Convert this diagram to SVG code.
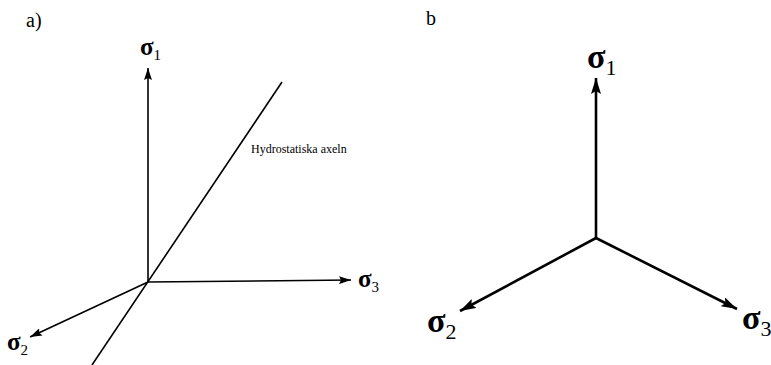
<svg xmlns="http://www.w3.org/2000/svg" width="771" height="365" viewBox="0 0 771 365">
<defs>
<marker id="ha" viewBox="0 0 12 8" refX="12" refY="4" markerWidth="12" markerHeight="8" markerUnits="userSpaceOnUse" orient="auto"><path d="M0,0 L12,4 L0,8 L2,4 Z" fill="#000"/></marker>
<marker id="hb" viewBox="0 0 16 10" refX="16" refY="5" markerWidth="16" markerHeight="10" markerUnits="userSpaceOnUse" orient="auto"><path d="M0,0 L16,5 L0,10 L3,5 Z" fill="#000"/></marker>
<style>
.t{font-family:"Liberation Serif",serif;fill:#000}
.a{stroke:#000;stroke-width:1.6;fill:none}
.b{stroke:#000;stroke-width:2.6;fill:none}
.sa{font-size:25px;font-weight:bold}
.sb{font-size:34px;font-weight:bold}
.ua{font-size:15px;font-weight:normal}
.ub{font-size:22px;font-weight:normal}
</style>
</defs>
<rect width="771" height="365" fill="#fff"/>
<g id="labels">
<text class="t" x="26" y="27" font-size="20">a)</text>
<text class="t" x="426" y="25" font-size="20">b</text>
</g>
<g id="connectors">
<line class="a" x1="148" y1="282" x2="148" y2="68" marker-end="url(#ha)"/>
<line class="a" x1="148" y1="282" x2="351" y2="280" marker-end="url(#ha)"/>
<line class="a" x1="148" y1="282" x2="30" y2="337" marker-end="url(#ha)"/>
<line class="a" x1="282" y1="82" x2="92" y2="365"/>
<line class="b" x1="596" y1="238" x2="596" y2="78" marker-end="url(#hb)"/>
<line class="b" x1="596" y1="238" x2="460" y2="311" marker-end="url(#hb)"/>
<line class="b" x1="596" y1="238" x2="737" y2="309" marker-end="url(#hb)"/>
</g>
<g id="a-s1"><text class="t sa" x="140" y="55">σ<tspan class="ua" dy="5">1</tspan></text></g>
<g id="a-s3"><text class="t sa" x="358" y="287">σ<tspan class="ua" dy="5">3</tspan></text></g>
<g id="a-s2"><text class="t sa" x="7" y="350">σ<tspan class="ua" dy="5">2</tspan></text></g>
<g id="a-hyd"><text class="t" x="251" y="153" font-size="12">Hydrostatiska axeln</text></g>
<g id="b-s1"><text class="t sb" x="587" y="68">σ<tspan class="ub" dy="7">1</tspan></text></g>
<g id="b-s2"><text class="t sb" x="427" y="332">σ<tspan class="ub" dy="7">2</tspan></text></g>
<g id="b-s3"><text class="t sb" x="742" y="329">σ<tspan class="ub" dy="7">3</tspan></text></g>
</svg>
